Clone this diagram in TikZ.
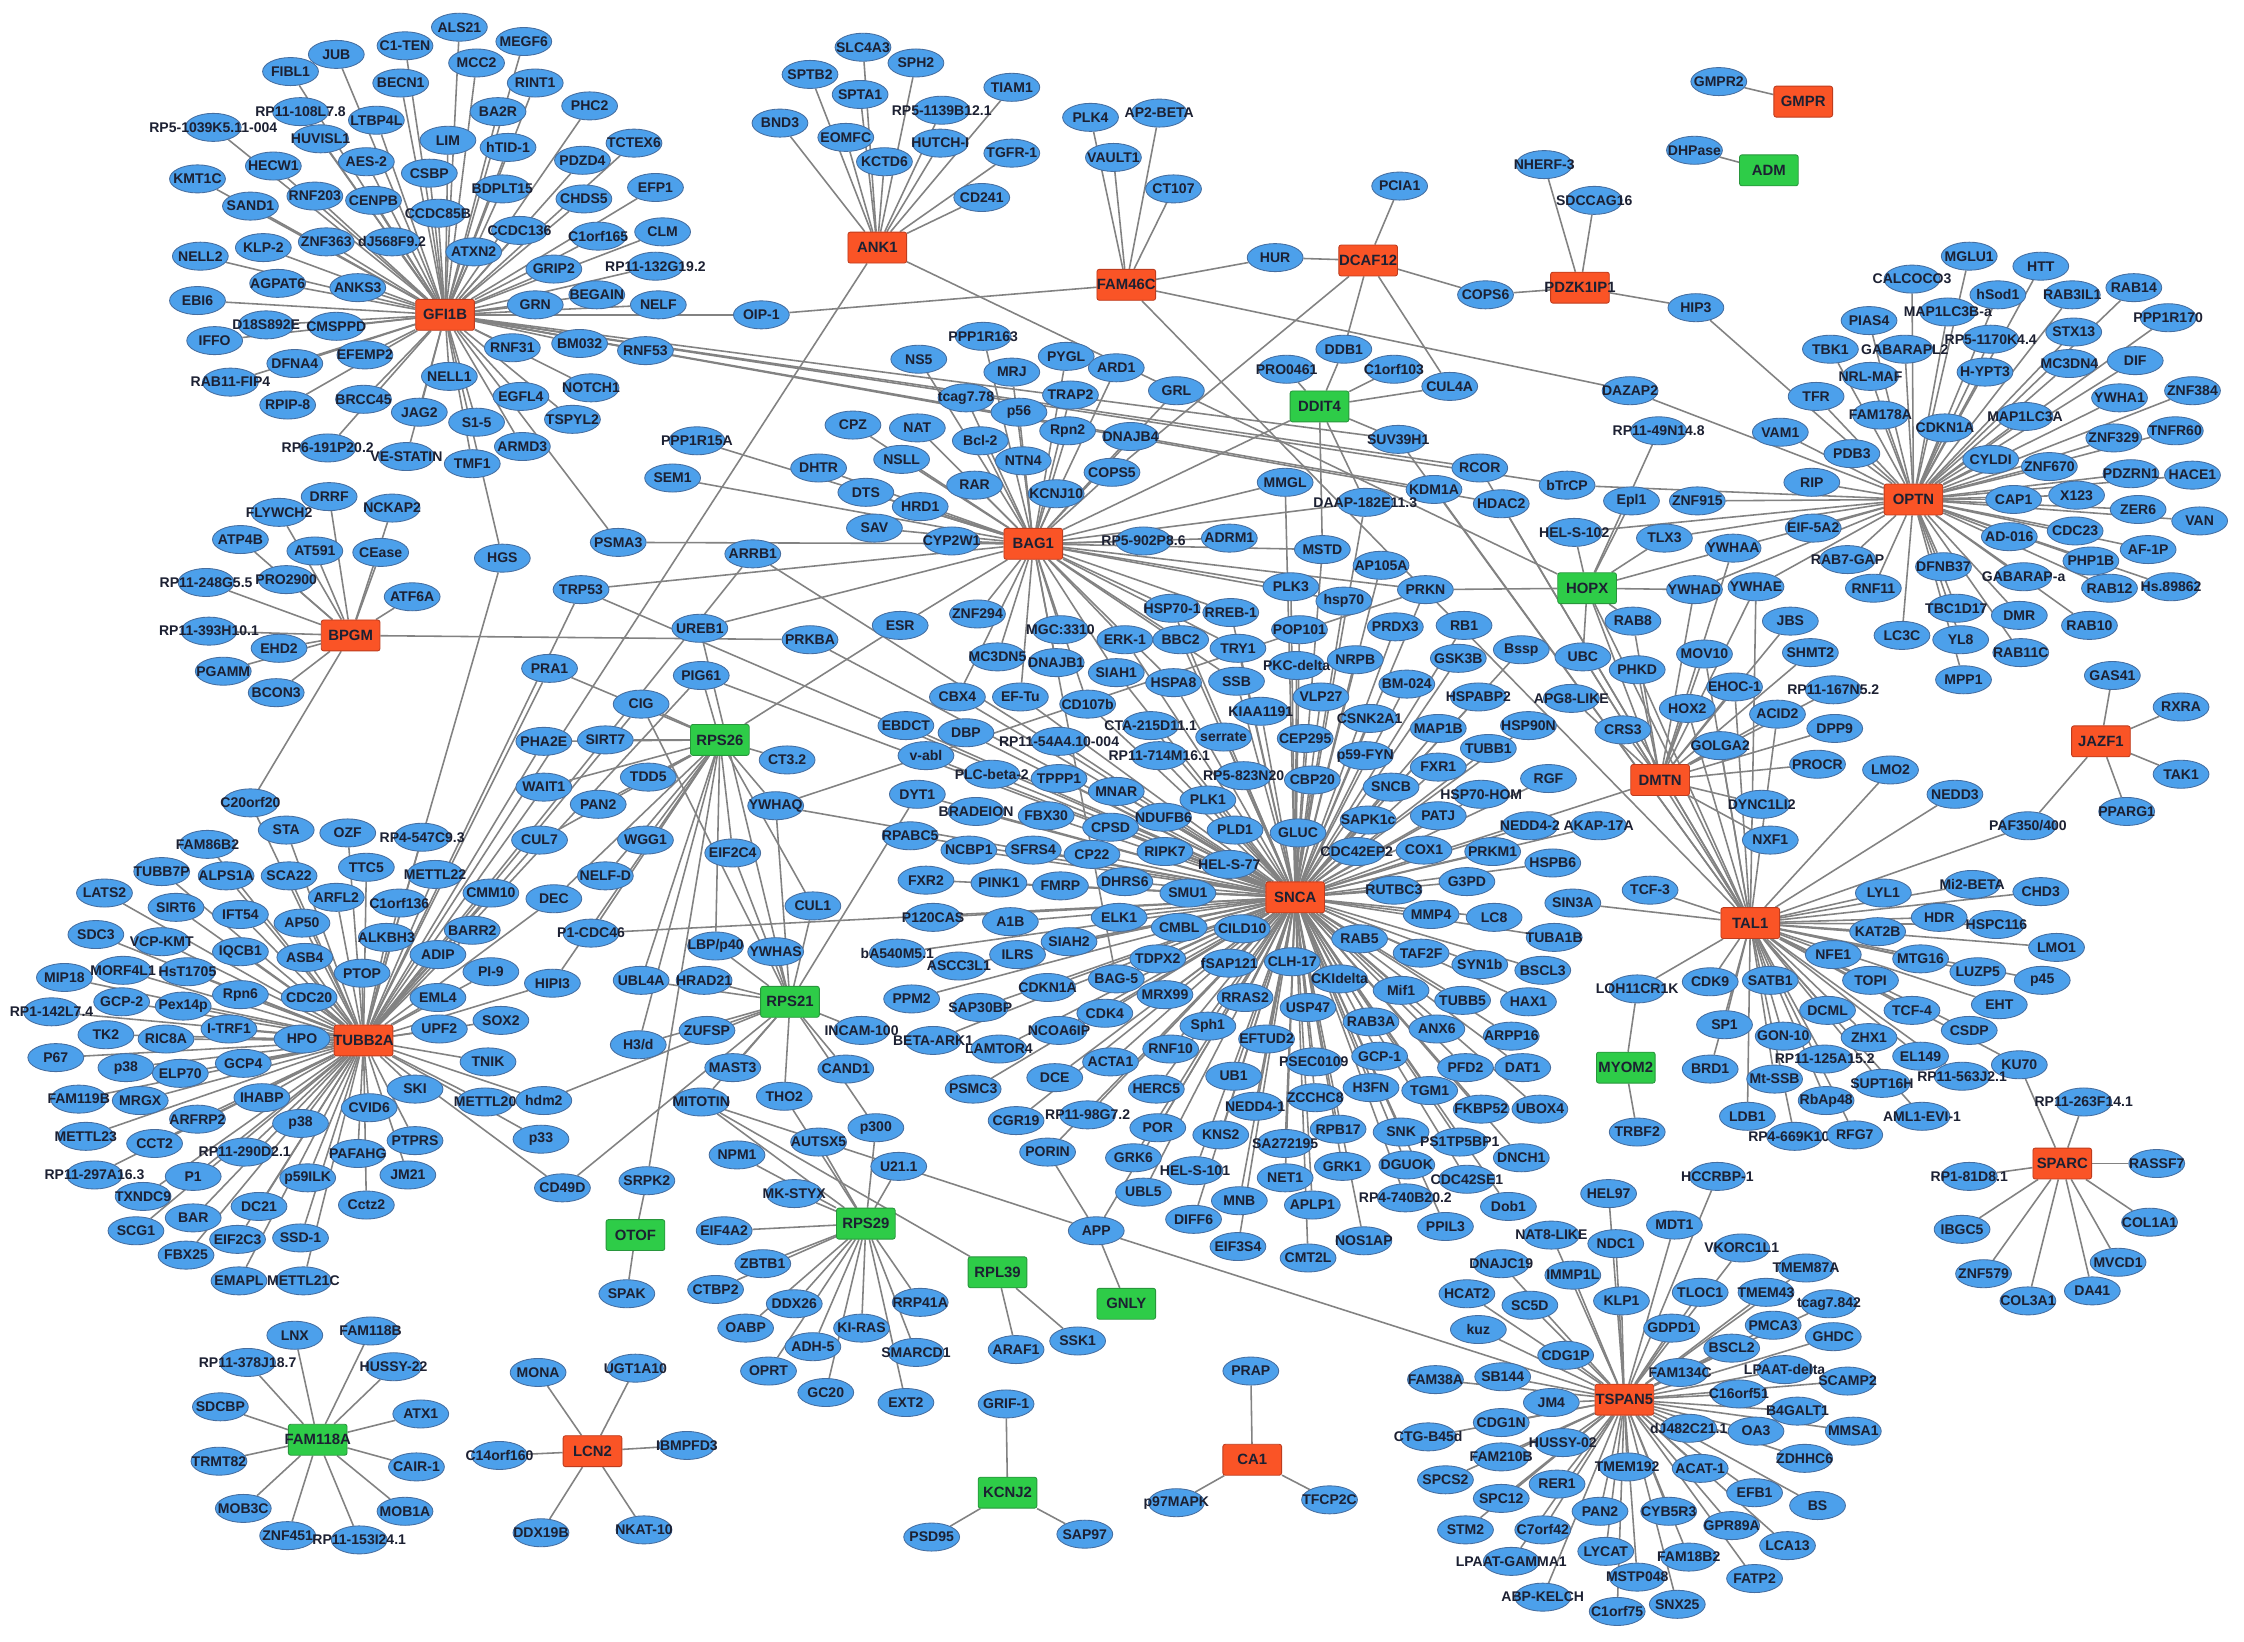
\documentclass[tikz,border=0pt]{standalone}
\usepackage{fontspec}
\setmainfont{Liberation Sans}
\usetikzlibrary{shapes.geometric,backgrounds}
\definecolor{genefill}{RGB}{76,160,235}
\definecolor{geneline}{RGB}{70,110,160}
\definecolor{upfill}{RGB}{250,84,38}
\definecolor{upline}{RGB}{190,60,30}
\definecolor{downfill}{RGB}{46,204,72}
\definecolor{downline}{RGB}{40,150,60}
\definecolor{linkgray}{RGB}{130,130,130}
\definecolor{labeltext}{RGB}{28,32,50}
\tikzset{
  gene/.style={ellipse, draw=geneline, fill=genefill, line width=0.3pt,
               minimum width=19.5pt, minimum height=9.8pt, inner sep=0pt,
               font=\fontsize{4.9}{6}\selectfont\bfseries, text=labeltext},
  hub/.style={rectangle, rounded corners=0.8pt, line width=0.3pt,
              minimum width=20.5pt, minimum height=10.8pt, inner sep=0pt,
              font=\fontsize{5.2}{6}\selectfont\bfseries, text=labeltext},
  uphub/.style={hub, draw=upline, fill=upfill},
  downhub/.style={hub, draw=downline, fill=downfill},
  link/.style={draw=linkgray, line width=0.55pt},
}
\newcommand{\nlab}[1]{\makebox[0pt]{#1}}
% leaves of one hub: prefix, list x/y/label
\newcommand{\placegenes}[2]{%
  \foreach \x/\y/\nm [count=\i] in #2 {\node[gene] (#1\i) at (\x,\y) {\nlab{\nm}};}}
% spokes of one hub: hub, prefix, list
\newcommand{\linkgenes}[3]{%
  \foreach \x/\y/\nm [count=\i] in #3 {\draw[link] (#1) -- (#2\i);}}

\begin{document}
\begin{tikzpicture}[x=0.5pt, y=-0.5pt]
  \useasboundingbox (0,0) rectangle (1568,1147);

  % hubs
  \node[uphub] (GFI1B) at (311,220) {\nlab{GFI1B}};
  \node[uphub] (ANK1) at (613,173) {\nlab{ANK1}};
  \node[uphub] (FAM46C) at (787,199) {\nlab{FAM46C}};
  \node[uphub] (DCAF12) at (956,182) {\nlab{DCAF12}};
  \node[uphub] (PDZK1IP1) at (1104,201) {\nlab{PDZK1IP1}};
  \node[uphub] (GMPR) at (1260,71) {\nlab{GMPR}};
  \node[downhub] (ADM) at (1236,119) {\nlab{ADM}};
  \node[downhub] (DDIT4) at (922,284) {\nlab{DDIT4}};
  \node[uphub] (OPTN) at (1337,349) {\nlab{OPTN}};
  \node[uphub] (BAG1) at (722,380) {\nlab{BAG1}};
  \node[downhub] (HOPX) at (1109,411) {\nlab{HOPX}};
  \node[uphub] (BPGM) at (245,444) {\nlab{BPGM}};
  \node[downhub] (RPS26) at (503,517) {\nlab{RPS26}};
  \node[uphub] (DMTN) at (1160,545) {\nlab{DMTN}};
  \node[uphub] (JAZF1) at (1468,518) {\nlab{JAZF1}};
  \node[uphub] (SNCA) at (905,627) {\nlab{SNCA}};
  \node[uphub] (TAL1) at (1223,645) {\nlab{TAL1}};
  \node[uphub] (TUBB2A) at (254,727) {\nlab{TUBB2A}};
  \node[downhub] (RPS21) at (552,700) {\nlab{RPS21}};
  \node[downhub] (MYOM2) at (1136,746) {\nlab{MYOM2}};
  \node[uphub] (SPARC) at (1441,813) {\nlab{SPARC}};
  \node[downhub] (OTOF) at (444,863) {\nlab{OTOF}};
  \node[downhub] (RPS29) at (605,855) {\nlab{RPS29}};
  \node[downhub] (RPL39) at (697,889) {\nlab{RPL39}};
  \node[downhub] (GNLY) at (787,911) {\nlab{GNLY}};
  \node[downhub] (FAM118A) at (222,1006) {\nlab{FAM118A}};
  \node[uphub] (LCN2) at (414,1014) {\nlab{LCN2}};
  \node[downhub] (KCNJ2) at (704,1043) {\nlab{KCNJ2}};
  \node[uphub] (CA1) at (875,1020) {\nlab{CA1}};
  \node[uphub] (TSPAN5) at (1135,978) {\nlab{TSPAN5}};

  % genes shared by several hubs
  \node[gene] (OIP1) at (532,220) {\nlab{OIP-1}};
  \node[gene] (HGS) at (351,390) {\nlab{HGS}};
  \node[gene] (PSMA3) at (432,379) {\nlab{PSMA3}};
  \node[gene] (HUR) at (891,180) {\nlab{HUR}};
  \node[gene] (COPS6) at (1038,206) {\nlab{COPS6}};
  \node[gene] (DDB1) at (939,244) {\nlab{DDB1}};
  \node[gene] (CUL4A) at (1013,270) {\nlab{CUL4A}};
  \node[gene] (COPS5) at (777,330) {\nlab{COPS5}};
  \node[gene] (DAZAP2) at (1139,273) {\nlab{DAZAP2}};
  \node[gene] (HIP3) at (1185,215) {\nlab{HIP3}};
  \node[gene] (SUV39H1) at (977,307) {\nlab{SUV39H1}};
  \node[gene] (RCOR) at (1034,327) {\nlab{RCOR}};
  \node[gene] (KDM1A) at (1002,342) {\nlab{KDM1A}};
  \node[gene] (HDAC2) at (1049,352) {\nlab{HDAC2}};
  \node[gene] (bTrCP) at (1095,339) {\nlab{bTrCP}};
  \node[gene] (DAAP) at (954,351) {\nlab{DAAP-182E11.3}};
  \node[gene] (MMGL) at (898,337) {\nlab{MMGL}};
  \node[gene] (MSTD) at (924,384) {\nlab{MSTD}};
  \node[gene] (YWHAA) at (1211,383) {\nlab{YWHAA}};
  \node[gene] (YWHAD) at (1184,412) {\nlab{YWHAD}};
  \node[gene] (YWHAE) at (1227,410) {\nlab{YWHAE}};
  \node[gene] (HELS102) at (1100,372) {\nlab{HEL-S-102}};
  \node[gene] (Epl1) at (1140,350) {\nlab{Epl1}};
  \node[gene] (TLX3) at (1163,376) {\nlab{TLX3}};
  \node[gene] (RP1149) at (1159,301) {\nlab{RP11-49N14.8}};
  \node[gene] (PRKN) at (996,412) {\nlab{PRKN}};
  \node[gene] (hsp70) at (939,420) {\nlab{hsp70}};
  \node[gene] (RAB8) at (1141,434) {\nlab{RAB8}};
  \node[gene] (UBC) at (1106,459) {\nlab{UBC}};
  \node[gene] (PHKD) at (1144,468) {\nlab{PHKD}};
  \node[gene] (MOV10) at (1191,457) {\nlab{MOV10}};
  \node[gene] (EHOC1) at (1212,480) {\nlab{EHOC-1}};
  \node[gene] (HOX2) at (1179,495) {\nlab{HOX2}};
  \node[gene] (ACID2) at (1242,499) {\nlab{ACID2}};
  \node[gene] (GOLGA2) at (1202,521) {\nlab{GOLGA2}};
  \node[gene] (PAF) at (1417,577) {\nlab{PAF350/400}};
  \node[gene] (KU70) at (1411,744) {\nlab{KU70}};
  \node[gene] (LOH) at (1144,691) {\nlab{LOH11CR1K}};
  \node[gene] (C20orf20) at (175,561) {\nlab{C20orf20}};
  \node[gene] (hdm2) at (380,769) {\nlab{hdm2}};
  \node[gene] (p33) at (378,796) {\nlab{p33}};
  \node[gene] (CD49D) at (393,830) {\nlab{CD49D}};
  \node[gene] (ARRB1) at (526,387) {\nlab{ARRB1}};
  \node[gene] (TRP53) at (406,412) {\nlab{TRP53}};
  \node[gene] (UREB1) at (489,439) {\nlab{UREB1}};
  \node[gene] (ESR) at (629,437) {\nlab{ESR}};
  \node[gene] (PRKBA) at (566,447) {\nlab{PRKBA}};
  \node[gene] (PIG61) at (490,472) {\nlab{PIG61}};
  \node[gene] (CIG) at (448,492) {\nlab{CIG}};
  \node[gene] (PRA1) at (384,467) {\nlab{PRA1}};
  \node[gene] (PHA2E) at (380,518) {\nlab{PHA2E}};
  \node[gene] (WAIT1) at (380,550) {\nlab{WAIT1}};
  \node[gene] (CUL7) at (377,587) {\nlab{CUL7}};
  \node[gene] (DEC) at (387,628) {\nlab{DEC}};
  \node[gene] (HIPI3) at (386,687) {\nlab{HIPI3}};
  \node[gene] (YWHAQ) at (542,563) {\nlab{YWHAQ}};
  \node[gene] (EIF2C4) at (512,596) {\nlab{EIF2C4}};
  \node[gene] (CUL1) at (568,633) {\nlab{CUL1}};
  \node[gene] (P1CDC46) at (413,652) {\nlab{P1-CDC46}};
  \node[gene] (LBPp40) at (500,661) {\nlab{LBP/p40}};
  \node[gene] (YWHAS) at (542,665) {\nlab{YWHAS}};
  \node[gene] (UBL4A) at (448,685) {\nlab{UBL4A}};
  \node[gene] (H3d) at (446,730) {\nlab{H3/d}};
  \node[gene] (DYT1) at (641,555) {\nlab{DYT1}};
  \node[gene] (SRPK2) at (452,825) {\nlab{SRPK2}};
  \node[gene] (MITOTIN) at (490,770) {\nlab{MITOTIN}};
  \node[gene] (THO2) at (548,766) {\nlab{THO2}};
  \node[gene] (p300) at (612,788) {\nlab{p300}};
  \node[gene] (APP) at (766,860) {\nlab{APP}};
  \node[gene] (PORIN) at (732,805) {\nlab{PORIN}};
  \node[gene] (HSP701) at (819,425) {\nlab{HSP70-1}};
  \node[gene] (BBC2) at (825,447) {\nlab{BBC2}};
  \node[gene] (ERK1) at (786,447) {\nlab{ERK-1}};
  \node[gene] (HSPA8) at (820,477) {\nlab{HSPA8}};
  \node[gene] (SIAH1) at (780,470) {\nlab{SIAH1}};
  \node[gene] (CBX4) at (669,487) {\nlab{CBX4}};
  \node[gene] (EFTu) at (713,487) {\nlab{EF-Tu}};
  \node[gene] (CD107b) at (760,492) {\nlab{CD107b}};
  \node[gene] (BAG5) at (780,684) {\nlab{BAG-5}};
  \node[gene] (TRY1) at (865,453) {\nlab{TRY1}};
  \node[gene] (SSB) at (864,476) {\nlab{SSB}};
  \node[gene] (RREB1) at (860,428) {\nlab{RREB-1}};
  \node[gene] (PLK3) at (902,410) {\nlab{PLK3}};

  % leaves of each hub
  \def\lstGFI{321/19/ALS21, 283/32/C1-TEN, 366/29/MEGF6, 235/38/JUB, 203/50/FIBL1,
    333/44/MCC2, 280/58/BECN1, 374/58/RINT1, 210/78/RP11-108L7.8, 263/84/LTBP4L,
    348/78/BA2R, 149/89/RP5-1039K5.11-004, 224/97/HUVISL1, 313/98/LIM, 355/103/hTID-1,
    191/116/HECW1, 256/113/AES-2, 300/121/CSBP, 351/132/BDPLT15, 138/125/KMT1C,
    175/144/SAND1, 220/137/RNF203, 261/140/CENPB, 306/149/CCDC85B, 363/161/CCDC136,
    228/169/ZNF363, 274/169/dJ568F9.2, 140/179/NELL2, 184/173/KLP-2, 331/176/ATXN2,
    387/188/GRIP2, 194/198/AGPAT6, 250/201/ANKS3, 138/210/EBI6, 374/213/GRN,
    186/227/D18S892E, 235/228/CMSPPD, 150/238/IFFO, 358/243/RNF31, 206/254/DFNA4,
    255/248/EFEMP2, 161/267/RAB11-FIP4, 314/263/NELL1, 364/277/EGFL4, 201/283/RPIP-8,
    254/279/BRCC45, 293/288/JAG2, 333/295/S1-5, 400/293/TSPYL2, 229/313/RP6-191P20.2,
    284/319/VE-STATIN, 365/312/ARMD3, 330/324/TMF1, 412/74/PHC2, 443/100/TCTEX6,
    407/112/PDZD4, 458/131/EFP1, 408/139/CHDS5, 418/165/C1orf165, 463/162/CLM,
    458/186/RP11-132G19.2, 417/206/BEGAIN, 460/213/NELF, 405/240/BM032, 451/245/RNF53,
    413/271/NOTCH1}
  \def\lstANK{603/33/SLC4A3, 640/44/SPH2, 566/52/SPTB2, 601/66/SPTA1, 707/61/TIAM1,
    545/86/BND3, 658/77/RP5-1139B12.1, 591/96/EOMFC, 657/100/HUTCH-I, 707/107/TGFR-1,
    618/113/KCTD6, 686/138/CD241}
  \def\lstFAM{762/82/PLK4, 810/79/AP2-BETA, 778/110/VAULT1, 820/132/CT107}
  \def\lstDCA{978/130/PCIA1}
  \def\lstPDZ{1079/115/NHERF-3, 1114/140/SDCCAG16}
  \def\lstGMP{1201/57/GMPR2}
  \def\lstADM{1184/105/DHPase}
  \def\lstDDI{899/258/PRO0461, 974/258/C1orf103}
  \def\lstOPT{1376/179/MGLU1, 1426/186/HTT, 1336/195/CALCOCO3, 1396/206/hSod1,
    1448/206/RAB3IL1, 1491/201/RAB14, 1361/218/MAP1LC3B-a, 1306/224/PIAS4,
    1515/222/PPP1R170, 1449/232/STX13, 1391/237/RP5-1170K4.4, 1279/244/TBK1,
    1331/244/GABARAPL2, 1492/252/DIF, 1387/260/H-YPT3, 1446/254/MC3DN4, 1307/263/NRL-MAF,
    1532/273/ZNF384, 1481/278/YWHA1, 1269/277/TFR, 1314/290/FAM178A, 1359/299/CDKN1A,
    1415/291/MAP1LC3A, 1477/306/ZNF329, 1520/301/TNFR60, 1244/302/VAM1, 1294/317/PDB3,
    1391/321/CYLDI, 1432/326/ZNF670, 1489/331/PDZRN1, 1532/332/HACE1, 1266/337/RIP,
    1407/349/CAP1, 1451/346/X123, 1494/356/ZER6, 1537/364/VAN, 1186/350/ZNF915,
    1267/369/EIF-5A2, 1404/375/AD-016, 1450/371/CDC23, 1501/384/AF-1P, 1461/392/PHP1B,
    1517/410/Hs.89862, 1474/411/RAB12, 1414/403/GABARAP-a, 1358/396/DFNB37,
    1291/391/RAB7-GAP, 1309/411/RNF11, 1367/425/TBC1D17, 1411/430/DMR, 1460/437/RAB10,
    1329/444/LC3C, 1370/447/YL8, 1412/456/RAB11C, 1372/475/MPP1}
  \def\lstDMT{1251/434/JBS, 1265/456/SHMT2, 1281/482/RP11-167N5.2, 1282/509/DPP9,
    1270/534/PROCR, 1231/562/DYNC1LI2, 1237/587/NXF1, 1134/510/CRS3, 1098/488/APG8-LIKE}
  \def\lstTAL{1321/538/LMO2, 1366/555/NEDD3, 1316/624/LYL1, 1378/618/Mi2-BETA,
    1426/623/CHD3, 1355/641/HDR, 1312/651/KAT2B, 1395/646/HSPC116, 1437/662/LMO1,
    1281/667/NFE1, 1342/670/MTG16, 1382/679/LUZP5, 1427/685/p45, 1307/685/TOPI,
    1195/686/CDK9, 1237/685/SATB1, 1397/702/EHT, 1277/706/DCML, 1336/706/TCF-4,
    1205/716/SP1, 1376/720/CSDP, 1246/724/GON-10, 1306/725/ZHX1, 1342/738/EL149,
    1275/740/RP11-125A15.2, 1195/747/BRD1, 1240/754/Mt-SSB, 1315/757/SUPT16H,
    1371/752/RP11-563J2.1, 1276/769/RbAp48, 1221/780/LDB1, 1343/780/AML1-EVI-1,
    1254/794/RP4-669K10.2, 1296/793/RFG7, 1153/622/TCF-3, 1099/631/SIN3A}
  \def\lstJAZ{1476/472/GAS41, 1524/494/RXRA, 1524/541/TAK1, 1486/567/PPARG1}
  \def\lstSPA{1456/770/RP11-263F14.1, 1507/813/RASSF7, 1376/822/RP1-81D8.1,
    1371/859/IBGC5, 1502/854/COL1A1, 1386/890/ZNF579, 1480/882/MVCD1, 1417/909/COL3A1,
    1462/902/DA41}
  \def\lstMYO{1144/791/TRBF2}
  \def\lstBPG{230/347/DRRF, 274/355/NCKAP2, 195/358/FLYWCH2, 168/377/ATP4B,
    220/385/AT591, 266/386/CEase, 144/407/RP11-248G5.5, 200/405/PRO2900, 288/417/ATF6A,
    146/441/RP11-393H10.1, 195/453/EHD2, 156/469/PGAMM, 193/484/BCON3}
  \def\lstTUB{200/580/STA, 243/582/OZF, 295/585/RP4-547C9.3, 145/590/FAM86B2,
    113/609/TUBB7P, 158/612/ALPS1A, 202/612/SCA22, 256/606/TTC5, 304/611/METTL22,
    73/624/LATS2, 235/627/ARFL2, 279/631/C1orf136, 343/624/CMM10, 123/634/SIRT6,
    168/639/IFT54, 211/645/AP50, 67/653/SDC3, 113/658/VCP-KMT, 270/655/ALKBH3,
    330/650/BARR2, 168/665/IQCB1, 213/669/ASB4, 306/667/ADIP, 45/683/MIP18,
    86/678/MORF4L1, 131/679/HsT1705, 253/680/PTOP, 343/679/PI-9, 36/707/RP1-142L7.4,
    85/700/GCP-2, 128/703/Pex14p, 168/695/Rpn6, 216/697/CDC20, 306/697/EML4,
    74/723/TK2, 116/726/RIC8A, 160/719/I-TRF1, 211/726/HPO, 307/719/UPF2, 350/713/SOX2,
    39/739/P67, 88/746/p38, 126/750/ELP70, 170/743/GCP4, 341/742/TNIK, 290/761/SKI,
    55/768/FAM119B, 98/769/MRGX, 183/767/IHABP, 258/774/CVID6, 339/770/METTL20,
    138/782/ARFRP2, 210/785/p38, 60/794/METTL23, 108/799/CCT2, 290/797/PTPRS,
    171/805/RP11-290D2.1, 250/806/PAFAHG, 66/821/RP11-297A16.3, 135/822/P1,
    215/823/p59ILK, 285/821/JM21, 100/836/TXNDC9, 181/843/DC21, 256/842/Cctz2,
    135/851/BAR, 95/860/SCG1, 166/866/EIF2C3, 210/865/SSD-1, 130/877/FBX25,
    167/895/EMAPL, 212/895/METTL21C}
  \def\lstRSA{423/517/SIRT7, 453/543/TDD5, 550/531/CT3.2, 418/562/PAN2,
    451/587/WGG1, 423/612/NELF-D}
  \def\lstRSB{492/685/HRAD21, 494/720/ZUFSP, 512/746/MAST3, 602/720/INCAM-100,
    591/747/CAND1}
  \def\lstRSC{506/860/EIF4A2, 533/883/ZBTB1, 500/901/CTBP2, 555/911/DDX26,
    521/928/OABP, 602/928/KI-RAS, 568/941/ADH-5, 537/958/OPRT, 577/973/GC20,
    640/945/SMARCD1, 633/980/EXT2, 643/910/RRP41A, 555/834/MK-STYX, 515/807/NPM1,
    572/798/AUTSX5, 628/815/U21.1}
  \def\lstRPL{710/943/ARAF1, 753/937/SSK1}
  \def\lstOTO{438/904/SPAK}
  \def\lstLCN{376/959/MONA, 444/956/UGT1A10, 349/1017/C14orf160, 480/1010/IBMPFD3,
    378/1071/DDX19B, 450/1069/NKAT-10}
  \def\lstFMA{206/933/LNX, 259/930/FAM118B, 173/952/RP11-378J18.7,
    275/955/HUSSY-22, 154/983/SDCBP, 294/988/ATX1, 153/1021/TRMT82, 291/1025/CAIR-1,
    170/1054/MOB3C, 283/1056/MOB1A, 201/1073/ZNF451, 251/1076/RP11-153I24.1}
  \def\lstKCN{703/981/GRIF-1, 651/1074/PSD95, 758/1072/SAP97}
  \def\lstCAO{874/958/PRAP, 822/1050/p97MAPK, 929/1048/TFCP2C}
  \def\lstTSP{1200/822/HCCRBP-1, 1124/834/HEL97, 1170/856/MDT1,
    1084/863/NAT8-LIKE, 1129/869/NDC1, 1217/872/VKORC1L1, 1099/891/IMMP1L,
    1049/883/DNAJC19, 1262/886/TMEM87A, 1025/904/HCAT2, 1069/912/SC5D, 1133/909/KLP1,
    1168/928/GDPD1, 1188/903/TLOC1, 1234/903/TMEM43, 1278/911/tcag7.842, 1033/929/kuz,
    1239/926/PMCA3, 1281/934/GHDC, 1094/947/CDG1P, 1210/942/BSCL2, 1174/959/FAM134C,
    1247/957/LPAAT-delta, 1291/965/SCAMP2, 1215/974/C16orf51, 1256/986/B4GALT1,
    1003/964/FAM38A, 1050/962/SB144, 1084/980/JM4, 1180/998/dJ482C21.1, 1227/1000/OA3,
    1295/1000/MMSA1, 1049/994/CDG1N, 998/1004/CTG-B45d, 1092/1008/HUSSY-02,
    1261/1019/ZDHHC6, 1188/1026/ACAT-1, 1049/1018/FAM210B, 1137/1025/TMEM192,
    1226/1043/EFB1, 1270/1052/BS, 1010/1034/SPCS2, 1088/1037/RER1, 1049/1047/SPC12,
    1118/1056/PAN2, 1166/1056/CYB5R3, 1210/1066/GPR89A, 1024/1069/STM2,
    1078/1069/C7orf42, 1249/1080/LCA13, 1122/1084/LYCAT, 1180/1088/FAM18B2,
    1056/1091/LPAAT-GAMMA1, 1144/1102/MSTP048, 1226/1103/FATP2, 1078/1116/ABP-KELCH,
    1130/1126/C1orf75, 1172/1121/SNX25}
  \def\lstBAG{687/235/PPP1R163, 642/251/NS5, 707/260/MRJ, 745/249/PYGL,
    780/257/ARD1, 675/278/tcag7.78, 748/276/TRAP2, 712/288/p56, 596/297/CPZ,
    641/299/NAT, 685/308/Bcl-2, 746/301/Rpn2, 487/308/PPP1R15A, 630/321/NSLL,
    715/322/NTN4, 572/327/DHTR, 470/334/SEM1, 681/339/RAR, 738/345/KCNJ10, 605/344/DTS,
    643/354/HRD1, 611/369/SAV, 665/378/CYP2W1, 799/378/RP5-902P8.6, 859/376/ADRM1,
    822/273/GRL, 790/305/DNAJB4, 683/429/ZNF294, 741/440/MGC:3310, 697/459/MC3DN5,
    738/463/DNAJB1}
  \def\lstSNC{965/395/AP105A, 908/440/POP101, 975/438/PRDX3, 1023/437/RB1,
    1063/454/Bssp, 906/465/PKC-delta, 947/461/NRPB, 1019/460/GSK3B, 983/478/BM-024,
    923/487/VLP27, 1033/487/HSPABP2, 881/497/KIAA1191, 957/502/CSNK2A1, 1005/509/MAP1B,
    1068/507/HSP90N, 804/507/CTA-215D11.1, 855/515/serrate, 912/516/CEP295,
    1040/523/TUBB1, 810/528/RP11-714M16.1, 954/528/p59-FYN, 1005/536/FXR1, 1082/544/RGF,
    869/542/RP5-823N20, 917/545/CBP20, 972/550/SNCB, 1035/555/HSP70-HOM, 780/553/MNAR,
    844/559/PLK1, 813/571/NDUFB6, 1005/570/PATJ, 956/573/SAPK1c, 1069/577/NEDD4-2,
    1117/577/AKAP-17A, 863/580/PLD1, 907/582/GLUC, 776/578/CPSD, 814/595/RIPK7,
    948/595/CDC42EP2, 995/594/COX1, 1043/595/PRKM1, 859/604/HEL-S-77, 1085/603/HSPB6,
    786/616/DHRS6, 1025/616/G3PD, 830/624/SMU1, 974/622/RUTBC3, 1000/639/MMP4,
    1044/641/LC8, 782/641/ELK1, 824/648/CMBL, 868/649/CILD10, 950/656/RAB5,
    1086/655/TUBA1B, 809/670/TDPX2, 859/673/fSAP121, 903/672/CLH-17, 993/666/TAF2F,
    1034/674/SYN1b, 1078/678/BSCL3, 936/684/CKIdelta, 814/695/MRX99, 979/692/Mif1,
    870/697/RRAS2, 1022/699/TUBB5, 1068/700/HAX1, 914/704/USP47, 958/714/RAB3A,
    844/717/Sph1, 1004/719/ANX6, 1056/724/ARPP16, 885/726/EFTUD2, 818/733/RNF10,
    964/738/GCP-1, 918/742/PSEC0109, 1024/746/PFD2, 1064/746/DAT1, 862/752/UB1,
    808/761/HERC5, 958/760/H3FN, 999/762/TGM1, 877/773/NEDD4-1, 919/767/ZCCHC8,
    1035/775/FKBP52, 1076/775/UBOX4, 809/788/POR, 853/793/KNS2, 898/799/SA272195,
    935/789/RPB17, 979/791/SNK, 1020/798/PS1TP5BP1, 792/809/GRK6, 1063/809/DNCH1,
    835/818/HEL-S-101, 898/823/NET1, 938/815/GRK1, 983/814/DGUOK, 1025/824/CDC42SE1,
    799/833/UBL5, 866/839/MNB, 917/842/APLP1, 982/837/RP4-740B20.2, 1054/843/Dob1,
    834/852/DIFF6, 1010/857/PPIL3, 865/871/EIF3S4, 914/879/CMT2L, 953/867/NOS1AP,
    740/518/RP11-54A4.10-004, 633/507/EBDCT, 675/512/DBP, 647/528/v-abl,
    693/541/PLC-beta-2, 740/544/TPPP1, 682/567/BRADEION, 731/570/FBX30, 636/584/RPABC5,
    677/594/NCBP1, 722/594/SFRS4, 763/597/CP22, 647/615/FXR2, 698/617/PINK1,
    741/619/FMRP, 652/641/P120CAS, 706/644/A1B, 747/658/SIAH2, 627/666/bA540M5.1,
    711/667/ILRS, 670/675/ASCC3L1, 732/690/CDKN1A, 637/698/PPM2, 685/704/SAP30BP,
    772/708/CDK4, 740/720/NCOA6IP, 652/727/BETA-ARK1, 698/733/LAMTOR4, 776/742/ACTA1,
    737/753/DCE, 680/761/PSMC3, 710/783/CGR19, 760/779/RP11-98G7.2}

  \placegenes{gf}{\lstGFI}
  \placegenes{an}{\lstANK}
  \placegenes{fa}{\lstFAM}
  \placegenes{dc}{\lstDCA}
  \placegenes{pd}{\lstPDZ}
  \placegenes{gm}{\lstGMP}
  \placegenes{ad}{\lstADM}
  \placegenes{dd}{\lstDDI}
  \placegenes{op}{\lstOPT}
  \placegenes{dm}{\lstDMT}
  \placegenes{tl}{\lstTAL}
  \placegenes{jz}{\lstJAZ}
  \placegenes{sp}{\lstSPA}
  \placegenes{my}{\lstMYO}
  \placegenes{bp}{\lstBPG}
  \placegenes{tb}{\lstTUB}
  \placegenes{rs}{\lstRSA}
  \placegenes{rt}{\lstRSB}
  \placegenes{rn}{\lstRSC}
  \placegenes{rl}{\lstRPL}
  \placegenes{ot}{\lstOTO}
  \placegenes{lc}{\lstLCN}
  \placegenes{fm}{\lstFMA}
  \placegenes{kc}{\lstKCN}
  \placegenes{cl}{\lstCAO}
  \placegenes{ts}{\lstTSP}
  \placegenes{bg}{\lstBAG}
  \placegenes{sn}{\lstSNC}

  \begin{pgfonlayer}{background}
    \fill[white] (0,0) rectangle (1568,1147);
    \linkgenes{GFI1B}{gf}{\lstGFI}
    \linkgenes{ANK1}{an}{\lstANK}
    \linkgenes{FAM46C}{fa}{\lstFAM}
    \linkgenes{DCAF12}{dc}{\lstDCA}
    \linkgenes{PDZK1IP1}{pd}{\lstPDZ}
    \linkgenes{GMPR}{gm}{\lstGMP}
    \linkgenes{ADM}{ad}{\lstADM}
    \linkgenes{DDIT4}{dd}{\lstDDI}
    \linkgenes{OPTN}{op}{\lstOPT}
    \linkgenes{DMTN}{dm}{\lstDMT}
    \linkgenes{TAL1}{tl}{\lstTAL}
    \linkgenes{JAZF1}{jz}{\lstJAZ}
    \linkgenes{SPARC}{sp}{\lstSPA}
    \linkgenes{MYOM2}{my}{\lstMYO}
    \linkgenes{BPGM}{bp}{\lstBPG}
    \linkgenes{TUBB2A}{tb}{\lstTUB}
    \linkgenes{RPS26}{rs}{\lstRSA}
    \linkgenes{RPS21}{rt}{\lstRSB}
    \linkgenes{RPS29}{rn}{\lstRSC}
    \linkgenes{RPL39}{rl}{\lstRPL}
    \linkgenes{OTOF}{ot}{\lstOTO}
    \linkgenes{LCN2}{lc}{\lstLCN}
    \linkgenes{FAM118A}{fm}{\lstFMA}
    \linkgenes{KCNJ2}{kc}{\lstKCN}
    \linkgenes{CA1}{cl}{\lstCAO}
    \linkgenes{TSPAN5}{ts}{\lstTSP}
    \linkgenes{BAG1}{bg}{\lstBAG}
    \linkgenes{SNCA}{sn}{\lstSNC}
    % links between hubs and shared genes
    \foreach \a/\b in {GFI1B/OIP1, OIP1/FAM46C, GFI1B/HGS, HGS/TUBB2A, GFI1B/PSMA3,
      PSMA3/BAG1, GFI1B/SUV39H1, GFI1B/RCOR, GFI1B/KDM1A, GFI1B/HDAC2, GFI1B/bTrCP,
      ANK1/TUBB2A, ANK1/HOPX, FAM46C/HUR, HUR/DCAF12, FAM46C/DAZAP2, DAZAP2/OPTN,
      FAM46C/TAL1, DCAF12/COPS6, COPS6/PDZK1IP1, DCAF12/DDB1, DDB1/DDIT4, DCAF12/CUL4A,
      CUL4A/DDIT4, DCAF12/COPS5, COPS5/BAG1, PDZK1IP1/HIP3, HIP3/OPTN, DDIT4/SUV39H1,
      DDIT4/MSTD, DDIT4/DAAP, DDIT4/BAG1, MSTD/BAG1, MSTD/SNCA, DAAP/BAG1, DAAP/SNCA,
      MMGL/BAG1, MMGL/SNCA, SUV39H1/TAL1, RCOR/TAL1, KDM1A/TAL1, HDAC2/TAL1, bTrCP/OPTN,
      HOPX/YWHAA, HOPX/YWHAD, HOPX/RAB8, HOPX/UBC, HOPX/HELS102, HOPX/Epl1, HOPX/TLX3,
      HOPX/RP1149, HOPX/PRKN, HOPX/DMTN, HOPX/TAL1, OPTN/YWHAA, OPTN/YWHAD, OPTN/YWHAE,
      OPTN/HELS102, OPTN/TLX3, DMTN/YWHAA, DMTN/YWHAD, DMTN/YWHAE, DMTN/RAB8, DMTN/UBC,
      DMTN/PHKD, DMTN/MOV10, DMTN/HOX2, DMTN/EHOC1, DMTN/GOLGA2, DMTN/ACID2, DMTN/SNCA,
      TAL1/UBC, TAL1/PHKD, TAL1/MOV10, TAL1/HOX2, TAL1/EHOC1, TAL1/GOLGA2, TAL1/ACID2,
      TAL1/YWHAE, TAL1/PAF, PAF/JAZF1, TAL1/KU70, KU70/SPARC, TAL1/LOH, LOH/MYOM2,
      BPGM/C20orf20, C20orf20/TUBB2A, BPGM/PRKBA, PRKBA/SNCA, TUBB2A/PRA1, TUBB2A/PHA2E,
      TUBB2A/WAIT1, TUBB2A/CUL7, TUBB2A/DEC, TUBB2A/HIPI3, TUBB2A/hdm2, TUBB2A/p33,
      TUBB2A/CD49D, TUBB2A/ARRB1, TUBB2A/TRP53, TUBB2A/CIG, TUBB2A/PIG61, RPS26/PRA1,
      RPS26/PHA2E, RPS26/WAIT1, RPS26/CUL7, RPS26/DEC, RPS26/HIPI3, RPS26/CIG,
      RPS26/PIG61, RPS26/ESR, RPS26/YWHAQ, RPS26/EIF2C4, RPS26/CUL1, RPS26/LBPp40,
      RPS26/UBL4A, RPS26/H3d, RPS26/SRPK2, RPS26/P1CDC46, RPS21/CUL1, RPS21/YWHAS,
      RPS21/LBPp40, RPS21/UBL4A, RPS21/H3d, RPS21/EIF2C4, RPS21/YWHAQ, RPS21/DYT1,
      RPS21/CD49D, RPS21/hdm2, RPS21/MITOTIN, RPS21/THO2, RPS21/p300, RPS21/CIG,
      RPS21/UREB1, RPS29/MITOTIN, RPS29/THO2, RPS29/p300, RPL39/MITOTIN, OTOF/SRPK2,
      APP/SNCA, APP/MITOTIN, APP/GNLY, APP/TSPAN5, APP/PORIN, PORIN/SNCA, ARRB1/SNCA,
      TRP53/SNCA, TRP53/BAG1, UREB1/BAG1, ESR/BAG1, PIG61/SNCA, YWHAQ/SNCA, YWHAQ/PRKN,
      DYT1/SNCA, P1CDC46/SNCA, BAG1/HSP701, SNCA/HSP701, BAG1/BBC2, SNCA/BBC2,
      BAG1/ERK1, SNCA/ERK1, BAG1/HSPA8, SNCA/HSPA8, BAG1/SIAH1, SNCA/SIAH1, BAG1/CBX4,
      SNCA/CBX4, BAG1/EFTu, SNCA/EFTu, BAG1/CD107b, SNCA/CD107b, BAG1/BAG5, SNCA/BAG5,
      BAG1/TRY1, SNCA/TRY1, BAG1/SSB, SNCA/SSB, BAG1/RREB1, SNCA/RREB1, BAG1/PLK3,
      SNCA/PLK3, BAG1/hsp70, SNCA/hsp70, SNCA/PRKN, BAG1/PRKN}
      \draw[link] (\a) -- (\b);
  \end{pgfonlayer}
\end{tikzpicture}
\end{document}
